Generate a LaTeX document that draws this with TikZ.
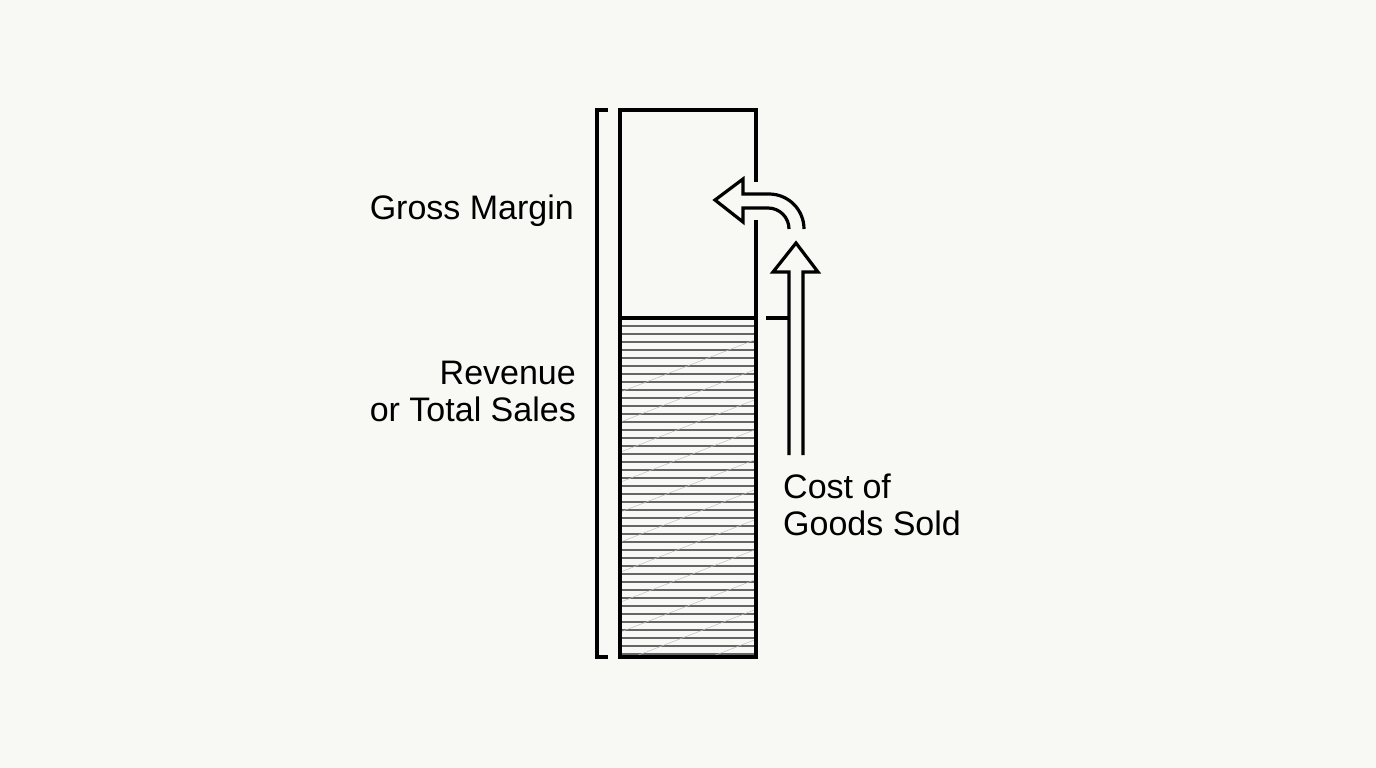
\documentclass[tikz,border=0pt]{standalone}
\usepackage{fontspec}
\setmainfont{Liberation Sans}
\definecolor{bg}{HTML}{F8F8F4}
\begin{document}
\begin{tikzpicture}[x=1pt,y=-1pt,
  ln/.style={line width=3.2pt,black},
  lbl/.style={font=\fontsize{34}{37}\selectfont,inner sep=0pt,align=right}]
\fill[bg] (0,0) rectangle (1376,768);
\useasboundingbox (0,0) rectangle (1376,768);
% hatching
\begin{scope}
\clip (620,318) rectangle (756,657);
\foreach \y in {326,334,...,654} \draw[black!60,line width=1.1pt] (620,\y) -- (756,\y);
\foreach \k in {0,...,14} \draw[gray!50,line width=0.5pt] (600,400+\k*30) -- (780,330+\k*30);
\end{scope}
% box
\draw[ln] (756,182) -- (756,110) -- (620,110) -- (620,657) -- (756,657) -- (756,220);
\draw[ln] (620,318) -- (756,318);
% bracket
\draw[ln] (608,110) -- (597,110) -- (597,657) -- (608,657);
% curved arrow
\draw[ln,line join=miter] (789,229) arc[start angle=0,end angle=-90,radius=21] -- (743,208) -- (743,222) -- (715,200) -- (743,179) -- (743,194) -- (769,194) arc[start angle=-90,end angle=0,radius=35];
% up arrow
\draw[ln,line join=miter] (789,455) -- (789,272) -- (773,272) -- (796,243) -- (818,272) -- (803,272) -- (803,455);
\draw[ln] (766,318) -- (789,318);
\node[lbl,anchor=east] (gm) at (574,211) {Gross Margin};
\node[lbl,anchor=east] (rv) at (576,391) {Revenue\\or Total Sales};
\node[lbl,anchor=west,align=left] (cg) at (783,505) {Cost of\\Goods Sold};
\end{tikzpicture}
\end{document}
